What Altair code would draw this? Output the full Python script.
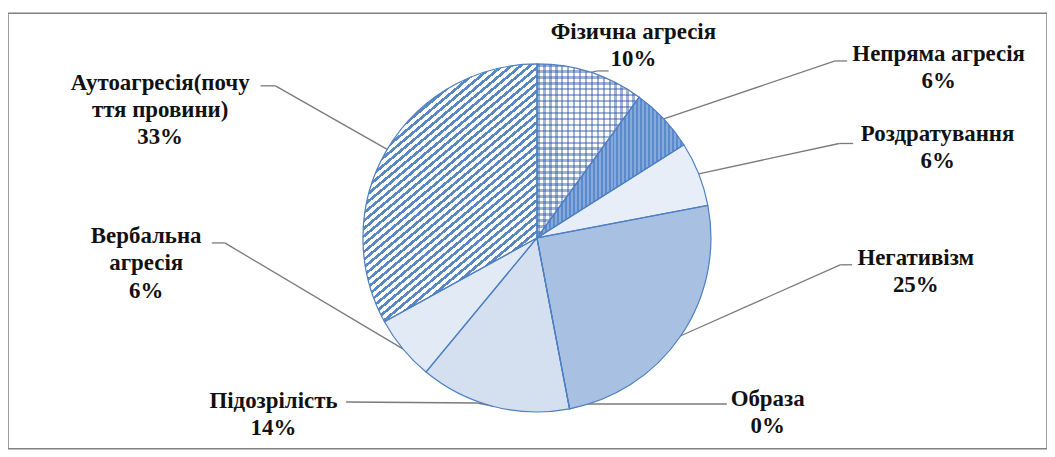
import math
import altair as alt
import pandas as pd

# ---------------- data ----------------
categories = ["Фізична агресія", "Непряма агресія", "Роздратування", "Негативізм",
              "Образа", "Підозрілість", "Вербальна агресія", "Аутоагресія(почуття провини)"]
values = [10, 6, 6, 25, 0, 14, 6, 33]
label_name_lines = [["Фізична агресія"], ["Непряма агресія"], ["Роздратування"], ["Негативізм"],
                    ["Образа"], ["Підозрілість"], ["Вербальна", "агресія"],
                    ["Аутоагресія(почу", "ття  провини)"]]

# ---------------- layout (page pixels) ----------------
OX, OY = 8, 12                # chart origin on page (margin + top padding)
CX, CY, R = 540, 238, 175     # pie centre and radius
W, H = 1045, 438

label_pos = {  # centre x, first line centre y
    "Фізична агресія": (637, 31),
    "Непряма агресія": (944, 53),
    "Роздратування": (943, 133),
    "Негативізм": (921, 258),
    "Образа": (772, 400),
    "Підозрілість": (275, 402),
    "Вербальна агресія": (147, 236),
    "Аутоагресія(почуття провини)": (161, 82),
}
leader_pts = {  # elbow, end next to the label
    "Фізична агресія": [(601, 70), (612, 70)],
    "Непряма агресія": [(840, 60), (852, 60)],
    "Роздратування": [(844, 143), (858, 143)],
    "Негативізм": [(845, 265), (857, 265)],
    "Образа": [(590, 405), (731, 405)],
    "Підозрілість": [(480, 404), (348, 403)],
    "Вербальна агресія": [(226, 243), (213, 243)],
    "Аутоагресія(почуття провини)": [(277, 85), (262, 85)],
}

# ---------------- derived tables ----------------
starts, ends = [], []
acc = 0
for v in values:
    starts.append(acc)
    acc += v
    ends.append(acc)
slices = pd.DataFrame({"category": categories, "value": values, "start": starts, "end": ends})

text_rows, seg_rows = [], []
for cat, v, s, e, lines in zip(categories, values, starts, ends, label_name_lines):
    lx, ly = label_pos[cat]
    text_rows.append({"category": cat, "label": "\n".join(lines + [f"{v}%"]),
                      "x": lx - OX, "y": ly - OY})
    mid = 2 * math.pi * (s + e) / 2 / 100
    px, py = CX + R * math.sin(mid), CY - R * math.cos(mid)
    pts = [(px, py)] + leader_pts[cat]
    for (x1, y1), (x2, y2) in zip(pts[:-1], pts[1:]):
        seg_rows.append({"category": cat, "x": x1 - OX, "y": y1 - OY, "x2": x2 - OX, "y2": y2 - OY})
texts = pd.DataFrame(text_rows)
segs = pd.DataFrame(seg_rows)


def slice_bbox(s, e):
    a0, a1 = 2 * math.pi * s / 100, 2 * math.pi * e / 100
    xs, ys = [0.0], [0.0]
    n = 400
    for i in range(n + 1):
        a = a0 + (a1 - a0) * i / n
        xs.append(R * math.sin(a))
        ys.append(-R * math.cos(a))
    return max(xs) - min(xs), max(ys) - min(ys)


def stripes(cat, angle_deg, period, duty, c_on, c_off):
    i = categories.index(cat)
    bw, bh = slice_bbox(starts[i], ends[i])
    a = math.radians(angle_deg)
    nx, ny = math.sin(a), math.cos(a)
    M = nx * bw + ny * bh
    S = nx * nx * bw * bw + ny * ny * bh * bh
    k = M / S
    p, q = k * nx * bw, k * ny * bh
    stops = []
    count = int(math.ceil(M / period))
    for j in range(count):
        t0 = min(j * period / M, 1)
        t1 = min((j + duty) * period / M, 1)
        t2 = min((j + 1) * period / M, 1)
        stops += [(t0, c_on), (t1, c_on), (t1, c_off), (t2, c_off)]
    return {"gradient": "linear", "x1": 0, "y1": 0, "x2": round(p, 5), "y2": round(q, 5),
            "stops": [{"offset": round(o, 5), "color": c} for o, c in stops]}


theta = alt.Theta("start:Q", scale=alt.Scale(domain=[0, 100], range=[0, 2 * math.pi]))
theta2 = alt.Theta2("end:Q")
pos = dict(x=alt.value(CX - OX), y=alt.value(CY - OY))
base = alt.Chart(slices)


def arc_layer(cat, fill):
    return base.transform_filter(alt.FieldEqualPredicate(field="category", equal=cat)).mark_arc(
        radius=R, fill=fill, strokeWidth=0).encode(theta=theta, theta2=theta2, **pos)


dot_col = "rgba(45,85,165,0.45)"
clear = "rgba(255,255,255,0)"
fill_layers = [
    arc_layer("Фізична агресія", "#ffffff"),
    arc_layer("Фізична агресія", stripes("Фізична агресія", 90, 6, 0.45, dot_col, clear)),
    arc_layer("Фізична агресія", stripes("Фізична агресія", 0, 6, 0.45, dot_col, clear)),
    arc_layer("Непряма агресія", stripes("Непряма агресія", 90, 4, 0.5, "#5b8bcc", "#86a9da")),
    arc_layer("Роздратування", "#e8eef8"),
    arc_layer("Негативізм", "#a8c0e1"),
    arc_layer("Підозрілість", "#d4dff0"),
    arc_layer("Вербальна агресія", "#e2eaf6"),
    arc_layer("Аутоагресія(почуття провини)",
              stripes("Аутоагресія(почуття провини)", 40, 6, 0.45, "#5a88c6", "#ffffff")),
]

outline = base.mark_arc(radius=R, fillOpacity=0, fill="#ffffff", stroke="#4d7fc2",
                        strokeWidth=1.2).encode(theta=theta, theta2=theta2, **pos)

leaders = alt.Chart(segs).mark_rule(color="#7a7a7a", strokeWidth=1.3).encode(
    x=alt.X("x:Q", scale=None, axis=None), y=alt.Y("y:Q", scale=None, axis=None),
    x2="x2:Q", y2="y2:Q")

labels = alt.Chart(texts).mark_text(
    font="Times New Roman, Liberation Serif, serif", fontWeight="bold", fontSize=23,
    lineHeight=27.5, lineBreak="\n",
    align="center", baseline="middle", color="#111111").encode(
    x=alt.X("x:Q", scale=None, axis=None), y=alt.Y("y:Q", scale=None, axis=None), text="label:N")

chart = alt.layer(leaders, *fill_layers, outline, labels).properties(
    width=W, height=H, autosize="none",
    padding={"left": 0, "top": 4, "right": 0, "bottom": 0},
).configure_view(stroke="#808080", strokeWidth=1.5)

chart.save("out.html", embed_options={"renderer": "svg", "actions": False})
